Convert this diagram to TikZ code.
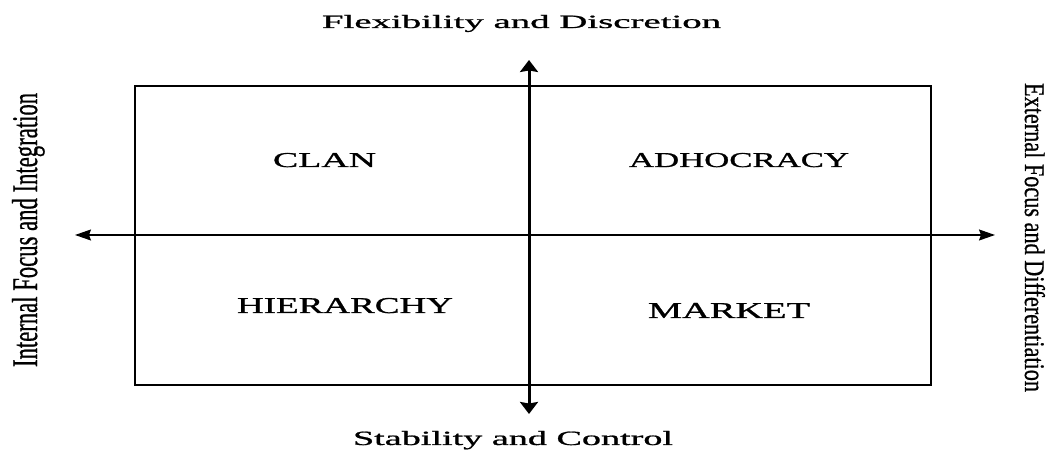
\documentclass[tikz,border=0pt]{standalone}
\usepackage{fontspec}
\setmainfont{Liberation Serif}[FakeBold=0.8]
\usetikzlibrary{arrows.meta}
\begin{document}
\begin{tikzpicture}[x=1bp,y=1bp,
  lbl/.style={inner sep=0pt,outer sep=0pt,anchor=base west},
  frame/.style={line width=1.8bp},
  htip/.style={Stealth[length=16bp,width=11bp,inset=2bp]},
  vtip/.style={Stealth[length=12bp,width=18bp,inset=1.5bp]},
  haxis/.style={line width=1.4bp,{Stealth[length=16bp,width=11bp,inset=2bp]}-{Stealth[length=16bp,width=11bp,inset=2bp]}},
  vaxis/.style={line width=3bp,{Stealth[length=12bp,width=18bp,inset=1.5bp]}-{Stealth[length=12bp,width=18bp,inset=1.5bp]}}]
\useasboundingbox (0,0) rectangle (1053,455);
% quadrant frame
\draw[frame] (135,70) rectangle (931,369);
% axes
\coordinate (west) at (75,220);
\coordinate (east) at (995,220);
\coordinate (north) at (529,395);
\coordinate (south) at (529,41);
\draw[haxis] (west) -- (east);
\draw[vaxis] (north) -- (south);
% quadrant labels
\node[lbl] (clan) at (273,288) {\resizebox{103bp}{14bp}{CLAN}};
\node[lbl] (adhocracy) at (629,288) {\resizebox{220bp}{14bp}{ADHOCRACY}};
\node[lbl] (hierarchy) at (237,142) {\resizebox{216bp}{15bp}{HIERARCHY}};
\node[lbl] (market) at (648,137) {\resizebox{162bp}{15bp}{MARKET}};
% axis labels
\node[lbl] (flex) at (322,427) {\resizebox{399bp}{13bp}{Flexibility and Discretion}};
\node[lbl] (stab) at (353,10) {\resizebox{320bp}{14bp}{Stability and Control}};
\node[lbl,rotate=90] (internal) at (37,88) {\resizebox{274bp}{25bp}{Internal Focus and Integration}};
\node[lbl,rotate=-90] (external) at (1025,372) {\resizebox{309bp}{20bp}{External Focus and Differentiation}};
\end{tikzpicture}
\end{document}
